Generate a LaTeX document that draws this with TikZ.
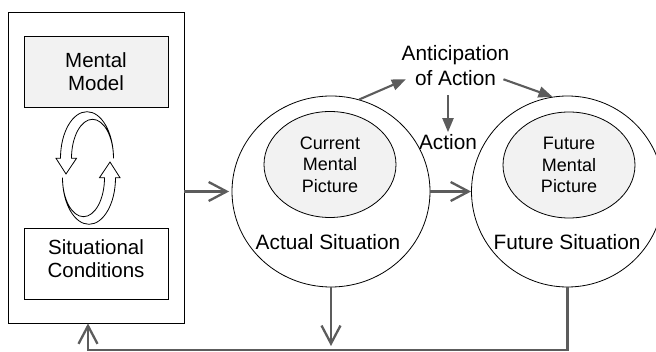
\documentclass[tikz,border=0pt]{standalone}
\usepackage{fontspec}
\setmainfont{Liberation Sans}
\usetikzlibrary{shapes.geometric,arrows.meta}
\definecolor{arrgray}{HTML}{5C5C5C}
\definecolor{boxgray}{HTML}{F2F2F2}

\begin{document}
\begin{tikzpicture}[x=1pt,y=-1pt,
        box/.style={draw, line width=0.8pt, inner sep=0pt, align=center, font=\fontsize{20.5}{23.5}\selectfont},
        sitcircle/.style={draw, ellipse, line width=0.8pt, inner sep=0pt, minimum height=191pt},
        mentalpic/.style={draw, ellipse, fill=boxgray, line width=0.8pt, inner sep=0pt, minimum width=132pt, minimum height=106pt, align=center, font=\fontsize{18}{21.5}\selectfont},
        lbl/.style={inner sep=0pt, align=center, font=\fontsize{20.8}{25}\selectfont},
        fbarrow/.style={draw=arrgray, line width=2.3pt, -{Straight Barb[length=18pt,width=19pt]}},
        antarrow/.style={draw=arrgray, fill=arrgray, line width=2.1pt, -{Triangle[length=14pt,width=11pt]}}]
    \useasboundingbox (0,0) rectangle (656,352);

    \node[box, minimum width=176pt, minimum height=311pt] (frame) at (96,167.5) {};
    \node[box, fill=boxgray, minimum width=144pt, minimum height=71pt] (model) at (96,71.5) {Mental\\Model};
    \node[box, minimum width=144pt, minimum height=71pt, text depth=10pt] (cond) at (96,263.5) {Situational\\Conditions};
    \foreach \r in {0,180} {
        \draw[line width=0.8pt, shift={(88,168)}, rotate=\r]
            (25.5,-9.7) arc[start angle=0, end angle=-180, x radius=26.5, y radius=46.6]
            -- (-32,-9.7) -- (-22,6) -- (-11.5,-9.7) -- (-16.5,-9.7)
            arc[start angle=-180, end angle=0, x radius=21, y radius=39] -- cycle;
    }

    \node[sitcircle, minimum width=198pt] (actual) at (331,191.5) {};
    \node[mentalpic] (curpic) at (330,164.5) {Current\\Mental\\Picture};
    \node[lbl] (actlbl) at (328,242) {Actual Situation};
    \node[sitcircle, minimum width=192pt] (future) at (567.5,191.5) {};
    \node[mentalpic] (futpic) at (569,165) {Future\\Mental\\Picture};
    \node[lbl] (futlbl) at (567,242) {Future Situation};
    \node[lbl] (antic) at (455.5,66) {Anticipation\\of Action};
    \node[lbl] (act) at (448,142.5) {Action};
    \coordinate (ret) at (88,350);

    \draw[fbarrow, shorten >=2.5pt] (frame.east |- actual.west) -- (actual.west);
    \draw[fbarrow] (actual.east) -- (future.west);
    \draw[fbarrow, shorten >=4pt] (actual.south) -- (actual.south |- ret);
    \draw[fbarrow] (future.south) |- (ret) -- (ret |- frame.south);
    \draw[antarrow] (actual.73) -- ([xshift=4.3pt,yshift=-13.3pt]antic.west);
    \draw[antarrow] ([xshift=-6pt,yshift=-13.3pt]antic.east) -- (future.99);
    \draw[antarrow, shorten <=9pt, shorten >=2.5pt] (act |- antic.south) -- (act.north);
\end{tikzpicture}
\end{document}
